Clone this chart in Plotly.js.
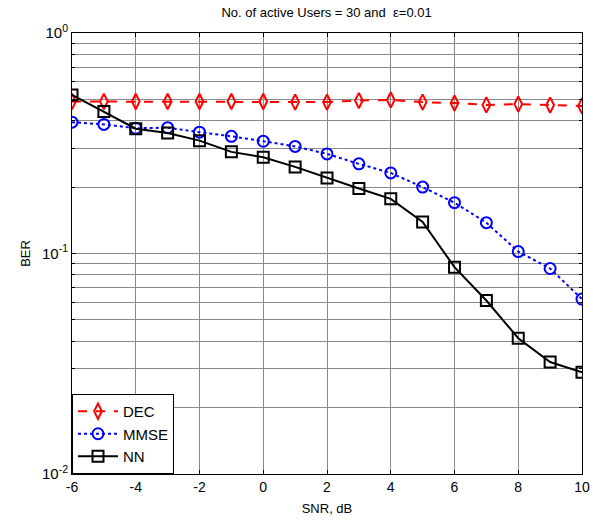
<!DOCTYPE html>
<html>
<head>
<meta charset="utf-8">
<script src="https://cdn.plot.ly/plotly-3.0.1.min.js"></script>
<style>html,body{margin:0;padding:0;background:#fff;}#chart{width:597px;height:524px;}</style>
</head>
<body>
<div id="chart"></div>
<script>
const snr = [-6,-5,-4,-3,-2,-1,0,1,2,3,4,5,6,7,8,9,10];
const berDEC  = [0.489,0.489,0.489,0.489,0.489,0.489,0.489,0.486,0.486,0.494,0.497,0.486,0.481,0.472,0.476,0.471,0.467];
const berMMSE = [0.394,0.385,0.370,0.372,0.355,0.340,0.323,0.306,0.283,0.255,0.232,0.200,0.170,0.138,0.102,0.0855,0.0621];
const berNN   = [0.524,0.441,0.368,0.352,0.325,0.289,0.273,0.247,0.220,0.197,0.177,0.139,0.0867,0.0612,0.0413,0.0322,0.0289];
const seriesNames = ['DEC','MMSE','NN'];
const xTicks = [-6,-4,-2,0,2,4,6,8,10];
const yTickVals = [0.01,0.1,1];
const yTickText = ['10<sup>-2</sup>','10<sup>-1</sup>','10<sup>0</sup>'];
const yMinorVals = [0.02,0.03,0.04,0.05,0.06,0.07,0.08,0.09,0.2,0.3,0.4,0.5,0.6,0.7,0.8,0.9];

const traces = [
  {x: snr, y: berDEC, name: seriesNames[0], mode: 'lines+markers',
   line: {color: '#ff0000', width: 2, dash: 'dash'},
   marker: {symbol: 'diamond-tall-open', size: 11, color: '#ff0000', line: {width: 2, color: '#ff0000'}}},
  {x: snr, y: berMMSE, name: seriesNames[1], mode: 'lines+markers',
   line: {color: '#0000ff', width: 2, dash: 'dot'},
   marker: {symbol: 'circle-open', size: 11, color: '#0000ff', line: {width: 2, color: '#0000ff'}}},
  {x: snr, y: berNN, name: seriesNames[2], mode: 'lines+markers',
   line: {color: '#000000', width: 2},
   marker: {symbol: 'square-open', size: 11, color: '#000000', line: {width: 2, color: '#000000'}}}
];

const layout = {
  width: 597, height: 524,
  margin: {l: 72, r: 15, t: 33, b: 50},
  paper_bgcolor: '#fff', plot_bgcolor: '#fff',
  font: {family: 'Liberation Sans, Arial, sans-serif', size: 13, color: '#000'},
  title: {text: 'No. of active Users = 30 and  ε=0.01', x: 0.547, xanchor: 'center', y: 0.985, yanchor: 'top',
          font: {size: 13, color: '#000'}},
  xaxis: {
    range: [-6, 10], tickmode: 'array', tickvals: xTicks, ticktext: xTicks.map(String),
    ticks: 'inside', ticklen: 4, tickcolor: '#000', mirror: 'ticks',
    showline: true, linecolor: '#000', linewidth: 1,
    showgrid: true, gridcolor: '#8a8a8a', gridwidth: 1, zeroline: false,
    tickfont: {size: 14},
    title: {text: 'SNR, dB', font: {size: 13}, standoff: 10}
  },
  yaxis: {
    type: 'log', range: [-2, 0], tickmode: 'array', tickvals: yTickVals, ticktext: yTickText,
    ticks: 'inside', ticklen: 4, tickcolor: '#000', mirror: 'ticks',
    showline: true, linecolor: '#000', linewidth: 1,
    showgrid: true, gridcolor: '#8a8a8a', gridwidth: 1, zeroline: false,
    minor: {tickmode: 'array', tickvals: yMinorVals, ticks: 'inside', ticklen: 3, tickcolor: '#000',
            showgrid: true, gridcolor: '#8a8a8a', gridwidth: 1},
    tickfont: {size: 15},
    title: {text: 'BER', font: {size: 13}, standoff: 8}
  },
  showlegend: true,
  legend: {x: 0, y: 0, xanchor: 'left', yanchor: 'bottom', bgcolor: '#fff',
           bordercolor: '#000', borderwidth: 1, font: {size: 15},
           itemwidth: 40, entrywidth: 62, entrywidthmode: 'pixels'}
};

Plotly.newPlot('chart', traces, layout, {displayModeBar: false, staticPlot: true});
</script>
</body>
</html>
